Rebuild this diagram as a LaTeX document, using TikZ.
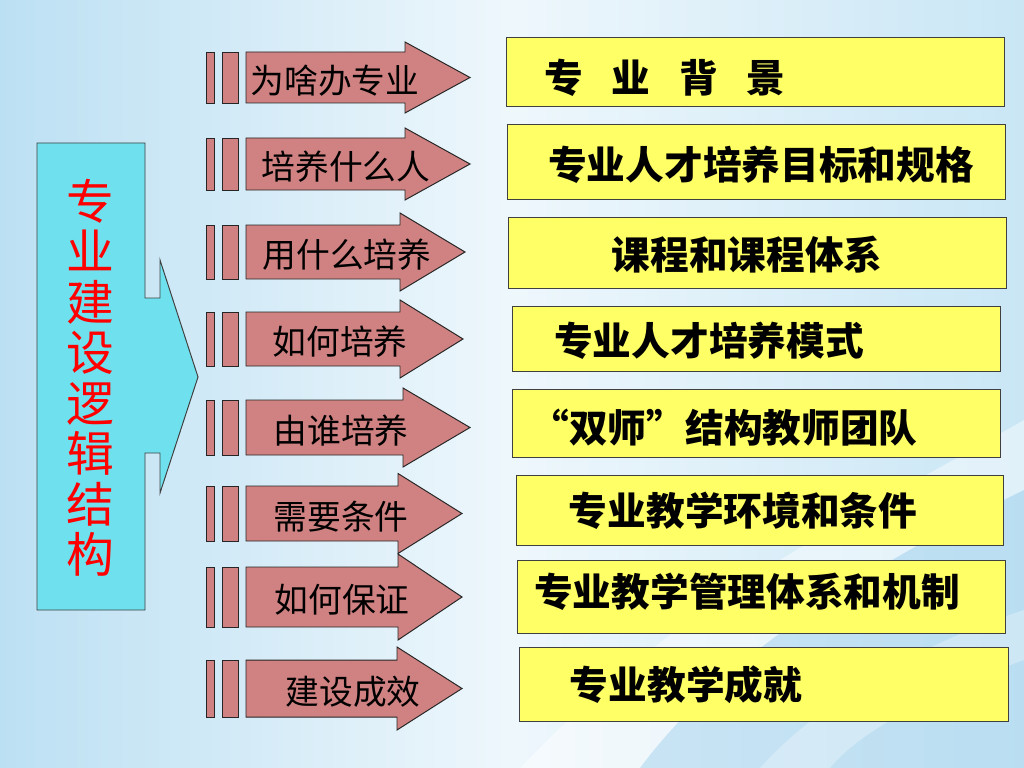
\documentclass[tikz,border=0pt]{standalone}
\usepackage{fontspec}
\newfontfamily\cjk{Noto Sans CJK SC}
\usetikzlibrary{calc}
\definecolor{bgside}{HTML}{BCE0F3}
\definecolor{bgmid}{HTML}{EEF7FC}
\definecolor{bgband}{HTML}{A8D4EE}
\definecolor{arrowred}{HTML}{D08282}
\definecolor{boxyellow}{HTML}{FFFF66}
\definecolor{headcyan}{HTML}{6FE1EE}
\tikzset{
	arrowbar/.style={draw=black!85, fill=arrowred, line width=0.7pt},
	arrowtext/.style={font=\cjk\fontsize{24pt}{26pt}\selectfont},
	ybox/.style={draw=black!75, fill=boxyellow, line width=0.7pt},
	ytext/.style={font=\cjk\bfseries\fontsize{27.5pt}{30pt}\selectfont}
}
% (centre y : body half : head half : head x : tip x : label x){name}{label}
\def\stripearrow(#1:#2:#3:#4:#5:#6)#7#8{%
	\draw[arrowbar] (206,{#1-#2}) rectangle (214,{#1+#2});
	\draw[arrowbar] (222,{#1-#2}) rectangle (238,{#1+#2});
	\draw[arrowbar] (246,{#1-#2}) -- (#4,{#1-#2}) -- (#4,{#1-#3}) -- (#5,#1) -- (#4,{#1+#3}) -- (#4,{#1+#2}) -- (246,{#1+#2}) -- cycle;
	\node[arrowtext] (#7) at (#6,{#1+3}) {#8};
}

\begin{document}
\begin{tikzpicture}[x=0.025cm, y=-0.025cm]
			%%%%% START %%%%%
			
			\fill[left color=bgside, right color=bgside!80, middle color=bgmid] (0,0) rectangle (1024,768);
			\useasboundingbox (0,0) rectangle (1024,768);
			\fill[white, opacity=0.45] (520,768) .. controls (680,600) and (850,520) .. (1024,420) -- (1024,490) .. controls (860,570) and (720,660) .. (640,768) -- cycle;
			\fill[bgband, opacity=0.45] (640,768) .. controls (720,660) and (860,570) .. (1024,490) -- (1024,768) -- cycle;
			\fill[white, opacity=0.3] (760,768) .. controls (820,700) and (930,640) .. (1024,610) -- (1024,660) .. controls (940,690) and (860,730) .. (830,768) -- cycle;
			
			\draw[draw=black!75, fill=headcyan, line width=0.7pt] (37,143) -- (145,143) -- (145,298) -- (160,298) -- (160,260) -- (198,377) -- (160,493) -- (160,453) -- (145,453) -- (145,610) -- (37,610) -- cycle;
			\node[red, align=center, font=\cjk\fontsize{34pt}{35.9pt}\selectfont] (logic) at (90,378) {专\\业\\建\\设\\逻\\辑\\结\\构};
			
			\stripearrow(77.5:25.5:35.5:405:470:335){why}{为啥办专业}
			\stripearrow(164:26:36:405:470:346){who}{培养什么人}
			\stripearrow(252:27:39:400:465:347){what}{用什么培养}
			\stripearrow(339:27:39:400:463:340){how}{如何培养}
			\stripearrow(427.5:27.5:39.5:403:470:341){teacher}{由谁培养}
			\stripearrow(513.5:27.5:40:398:462:341){need}{需要条件}
			\stripearrow(597:30:43:398:462:342){ensure}{如何保证}
			\stripearrow(688.5:28.5:41.5:397:462:353){effect}{建设成效}
			
			\draw[ybox] (506,37) rectangle (1004,106);
			\node[ytext] (background) at (665,78) {专\hspace{0.72cm}业\hspace{0.72cm}背\hspace{0.72cm}景};
			\draw[ybox] (507,124) rectangle (1005,199);
			\node[ytext] (goal) at (761,165) {专业人才培养目标和规格};
			\draw[ybox] (508,217) rectangle (1006,288);
			\node[ytext] (course) at (747,255) {课程和课程体系};
			\draw[ybox] (512,306) rectangle (1000,371);
			\node[ytext] (mode) at (709,341) {专业人才培养模式};
			\draw[ybox] (512,389) rectangle (1000,457);
			\node[ytext] (team) at (724,428) {“双师”结构教师团队};
			\draw[ybox] (516,475) rectangle (1003,545);
			\node[ytext] (condition) at (743,511) {专业教学环境和条件};
			\draw[ybox] (517,560) rectangle (1005,633);
			\node[ytext] (manage) at (747,592) {专业教学管理体系和机制};
			\draw[ybox] (519,647) rectangle (1008,721);
			\node[ytext] (result) at (686,685) {专业教学成就};
			
			%%%%% END %%%%%
\end{tikzpicture}
\end{document}
